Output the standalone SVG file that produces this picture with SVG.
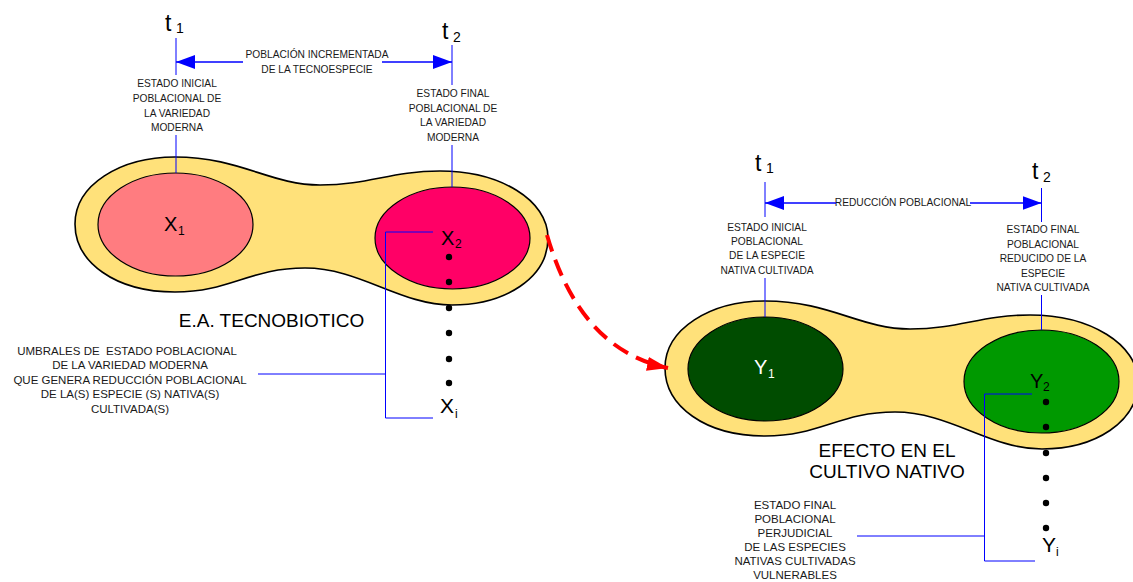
<svg xmlns="http://www.w3.org/2000/svg" width="1133" height="582" viewBox="0 0 1133 582">
<style>
.shell{fill:#FFE17A;stroke:#000;stroke-width:1.6}
.lbl{font-family:"Liberation Sans",Arial,sans-serif;font-size:10.2px;fill:#1a1a1a;text-anchor:middle}
.lbl2{font-family:"Liberation Sans",Arial,sans-serif;font-size:11.5px;fill:#1a1a1a;text-anchor:middle;white-space:pre}
.big{font-family:"Liberation Sans",Arial,sans-serif;font-size:19px;fill:#000;text-anchor:middle}
.t{font-family:"Liberation Sans",Arial,sans-serif;font-size:23px;fill:#000}
.ts{font-family:"Liberation Sans",Arial,sans-serif;font-size:14px;fill:#000}
.v{font-family:"Liberation Sans",Arial,sans-serif;font-size:20px;fill:#000}
.vs{font-family:"Liberation Sans",Arial,sans-serif;font-size:12px;fill:#000}
.w{fill:#fff}
.bl{stroke:#0000ff;stroke-width:1;fill:none}
.ba{stroke:#0000ff;stroke-width:1.5;fill:none;marker-end:url(#ah)}
.dot{fill:#000}
</style>
<defs>
<marker id="ah" markerUnits="userSpaceOnUse" markerWidth="20" markerHeight="14" refX="19" refY="7" orient="auto" viewBox="0 0 20 14">
<path d="M0,0 L19,7 L0,14 Z" fill="#0000ff"/>
</marker>
<marker id="rh" markerUnits="userSpaceOnUse" markerWidth="22" markerHeight="14" refX="21" refY="7" orient="auto" viewBox="0 0 22 14">
<path d="M0,0 L21,7 L0,14 Z" fill="#ff0000"/>
</marker>
<path id="peanut" d="M75,224 C75,185 120,157 175,157 C240,157 270,185 320,185 C370,185 390,171 440,171 C500,171 548,200 548,238 C548,278 505,305 452,305 C400,305 360,268 305,268 C250,268 230,292 175,292 C115,292 75,262 75,224 Z"/>
</defs>

<g id="tecnobiotico">
<use href="#peanut" class="shell"/>
<ellipse cx="175.5" cy="224.5" rx="77.5" ry="51.5" fill="#FF7C80" stroke="#000" stroke-width="1.2"/>
<ellipse cx="452.5" cy="238" rx="77.5" ry="51" fill="#FF0066" stroke="#000" stroke-width="1.2"/>
<text class="v" x="164" y="231">X</text><text class="vs" x="178" y="235">1</text>
<text class="v" x="441" y="245">X</text><text class="vs" x="455" y="248">2</text>
<text class="big" x="271.5" y="327">E.A. TECNOBIOTICO</text>
</g>

<g id="x-dots">
<circle class="dot" cx="449" cy="257" r="3.2"/>
<circle class="dot" cx="449" cy="282" r="3.2"/>
<circle class="dot" cx="449" cy="308" r="3.2"/>
<circle class="dot" cx="449" cy="333" r="3.2"/>
<circle class="dot" cx="449" cy="359" r="3.2"/>
<circle class="dot" cx="449" cy="383" r="3.2"/>
<text class="v" x="440" y="413" style="font-size:21px">X</text><text class="vs" x="455" y="418">i</text>
</g>

<g id="cultivo-nativo">
<use href="#peanut" class="shell" transform="translate(590,144)"/>
<ellipse cx="765.5" cy="369" rx="77.5" ry="52" fill="#004C00" stroke="#000" stroke-width="1.2"/>
<ellipse cx="1041.5" cy="381.5" rx="77.5" ry="51.5" fill="#009900" stroke="#000" stroke-width="1.2"/>
<text class="v w" x="754" y="374">Y</text><text class="vs w" x="768" y="378">1</text>
<text class="v" x="1030" y="388">Y</text><text class="vs" x="1043" y="391">2</text>
<text class="big" x="887" y="457">EFECTO EN EL</text>
<text class="big" x="887" y="478">CULTIVO NATIVO</text>
</g>

<g id="y-dots">
<circle class="dot" cx="1046" cy="402" r="3.2"/>
<circle class="dot" cx="1046" cy="427" r="3.2"/>
<circle class="dot" cx="1046" cy="453" r="3.2"/>
<circle class="dot" cx="1046" cy="478" r="3.2"/>
<circle class="dot" cx="1046" cy="503" r="3.2"/>
<circle class="dot" cx="1046" cy="528" r="3.2"/>
<text class="v" x="1042" y="552" style="font-size:21px">Y</text><text class="vs" x="1056" y="556">i</text>
</g>

<g id="time-labels">
<text class="t" x="165" y="31">t</text><text class="ts" x="176" y="33">1</text>
<text class="t" x="442" y="39">t</text><text class="ts" x="453" y="42">2</text>
<text class="t" x="755" y="171">t</text><text class="ts" x="766" y="173">1</text>
<text class="t" x="1032" y="179">t</text><text class="ts" x="1043" y="182">2</text>
</g>

<g id="text-labels">
<text class="lbl" x="317" y="58">POBLACIÓN INCREMENTADA</text>
<text class="lbl" x="317" y="73">DE LA TECNOESPECIE</text>
<text class="lbl" x="177" y="87">ESTADO INICIAL</text>
<text class="lbl" x="177" y="102">POBLACIONAL DE</text>
<text class="lbl" x="177" y="116.5">LA VARIEDAD</text>
<text class="lbl" x="177" y="131">MODERNA</text>
<text class="lbl" x="453" y="97">ESTADO FINAL</text>
<text class="lbl" x="453" y="111.5">POBLACIONAL DE</text>
<text class="lbl" x="453" y="126">LA VARIEDAD</text>
<text class="lbl" x="453" y="140.5">MODERNA</text>
<text class="lbl2" x="127" y="355" xml:space="preserve">UMBRALES DE  ESTADO POBLACIONAL</text>
<text class="lbl2" x="130" y="369">DE LA VARIEDAD MODERNA</text>
<text class="lbl2" x="130" y="383.5">QUE GENERA REDUCCIÓN POBLACIONAL</text>
<text class="lbl2" x="130" y="398">DE LA(S) ESPECIE (S) NATIVA(S)</text>
<text class="lbl2" x="130" y="412.5">CULTIVADA(S)</text>
<text class="lbl" x="903" y="206">REDUCCIÓN POBLACIONAL</text>
<text class="lbl" x="767" y="231">ESTADO INICIAL</text>
<text class="lbl" x="767" y="245">POBLACIONAL</text>
<text class="lbl" x="767" y="259">DE LA ESPECIE</text>
<text class="lbl" x="767" y="273.5">NATIVA CULTIVADA</text>
<text class="lbl" x="1043" y="233">ESTADO FINAL</text>
<text class="lbl" x="1043" y="247.5">POBLACIONAL</text>
<text class="lbl" x="1043" y="262">REDUCIDO DE LA</text>
<text class="lbl" x="1043" y="276.5">ESPECIE</text>
<text class="lbl" x="1043" y="291">NATIVA CULTIVADA</text>
<text class="lbl2" x="795" y="509">ESTADO FINAL</text>
<text class="lbl2" x="795" y="523">POBLACIONAL</text>
<text class="lbl2" x="795" y="537">PERJUDICIAL</text>
<text class="lbl2" x="795" y="551">DE LAS ESPECIES</text>
<text class="lbl2" x="795" y="565">NATIVAS CULTIVADAS</text>
<text class="lbl2" x="795" y="579">VULNERABLES</text>
</g>

<g id="connectors">
<path class="bl" d="M176,38 V75 M176,135 V173"/>
<path class="bl" d="M452,45 V85 M452,145 V187"/>
<path class="ba" d="M243,62 H176"/>
<path class="ba" d="M382,62 H452"/>
<path class="bl" d="M433,232 H385.5 V418 H433 M258,374 H385.5"/>
<path class="bl" d="M765,182 V217 M765,278 V317"/>
<path class="bl" d="M1041.5,188 V222 M1041.5,295 V330"/>
<path class="ba" d="M836,203 H765"/>
<path class="ba" d="M970,203 H1041.5"/>
<path class="bl" d="M1032,394 H984.5 V561 H1035 M857,536 H984.5"/>
<path d="M547,235 Q580,350 668,368" fill="none" stroke="#ff0000" stroke-width="4" stroke-dasharray="17,9" marker-end="url(#rh)"/>
</g>
</svg>
